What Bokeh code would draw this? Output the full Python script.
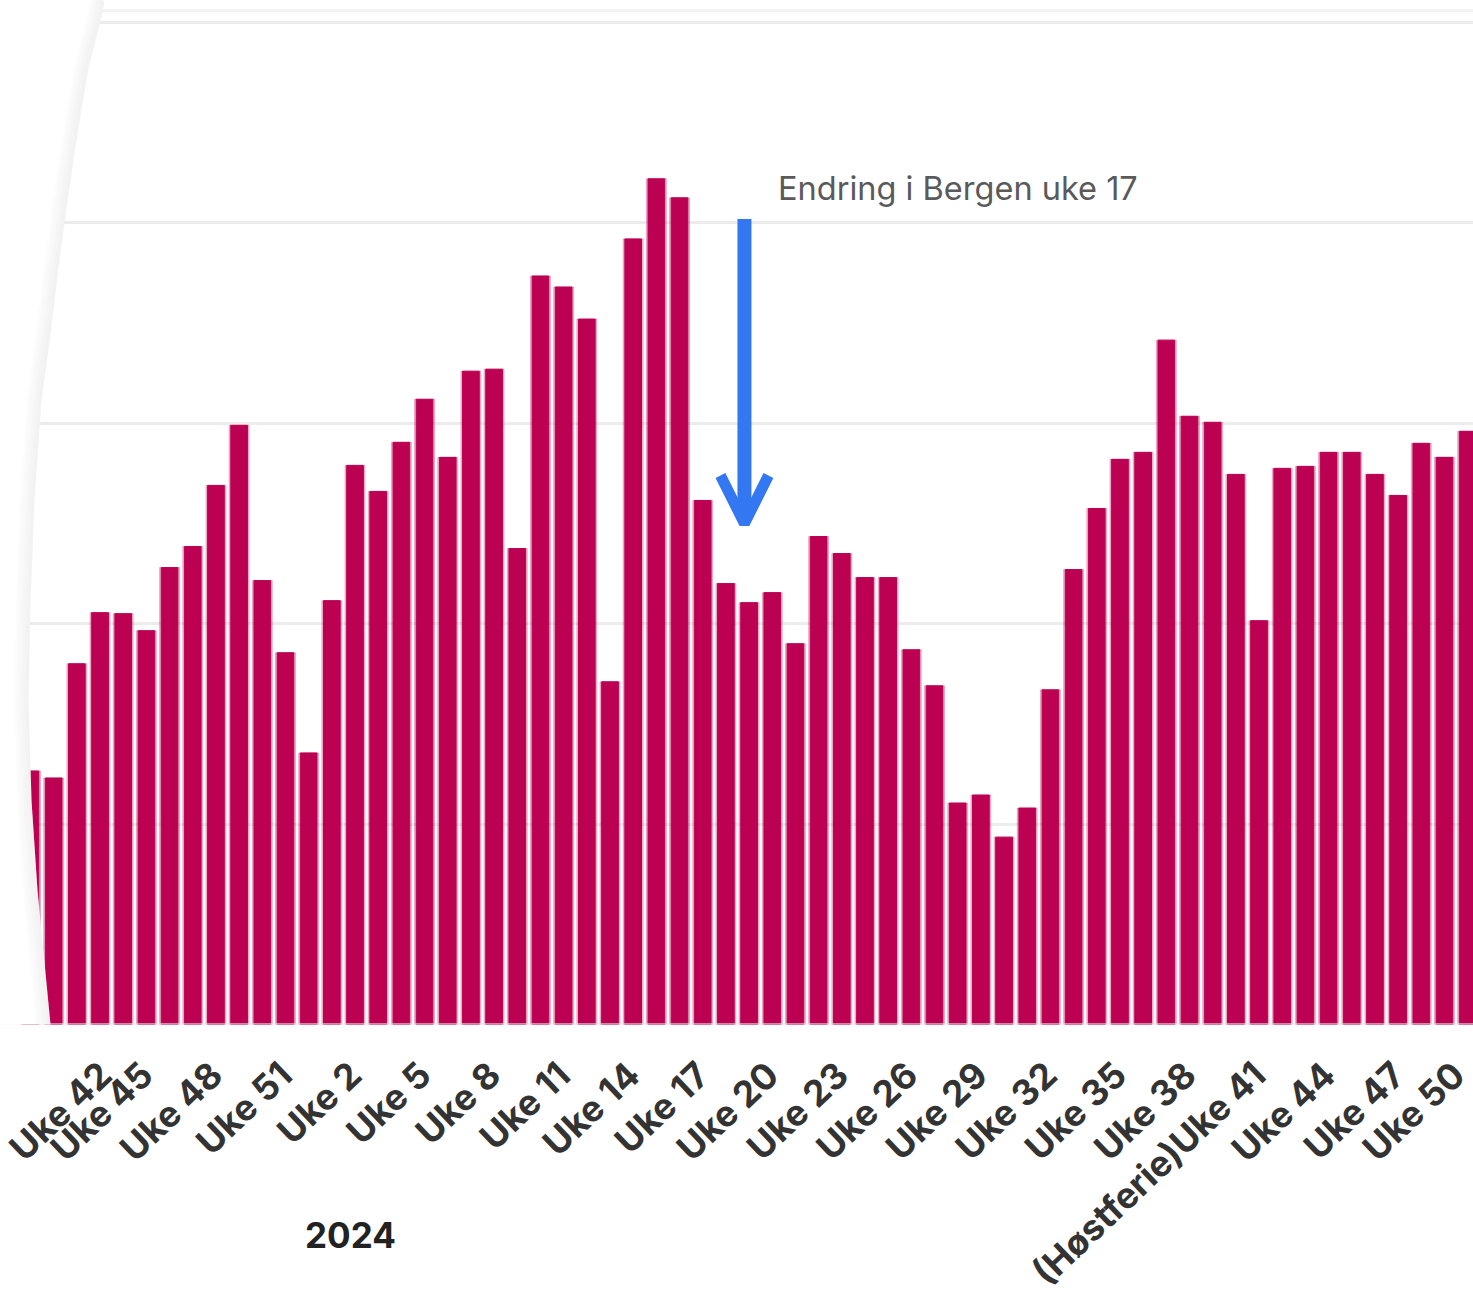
from bokeh.plotting import figure
from bokeh.models import (Range1d, FixedTicker, Label, Arrow, OpenHead, Span,
                          PolyAnnotation, ColumnDataSource, Title)
from bokeh.embed import file_html
from bokeh.resources import INLINE

# ---------------- data ----------------
weeks_2023 = list(range(40, 53))          # Uke 40 .. Uke 52 (2023)
weeks_2024 = list(range(1, 51))           # Uke 1 .. Uke 50 (2024)
years = ["2023"] * len(weeks_2023) + ["2024"] * len(weeks_2024)
week_labels = ["Uke %d" % w for w in weeks_2023] + ["Uke %d" % w for w in weeks_2024]
week_labels[len(weeks_2023) + 40] = "(Høstferie)Uke 41"

values = [
    25.3, 24.6, 36.0, 41.1, 41.0, 39.3, 45.6, 47.7, 53.8, 59.8, 44.3, 37.1, 27.1,   # 2023 uke 40-52
    42.3, 55.8, 53.2, 58.1, 62.4, 56.6, 65.2, 65.4, 47.5, 74.7,                     # 2024 uke 1-10
    73.6, 70.4, 34.2, 78.4, 84.4, 82.5, 52.3, 44.0, 42.1, 43.1,                     # uke 11-20
    38.0, 48.7, 47.0, 44.6, 44.6, 37.4, 33.8, 22.1, 22.9, 18.7,                     # uke 21-30
    21.6, 33.4, 45.4, 51.5, 56.4, 57.1, 68.3, 60.7, 60.1, 54.9,                     # uke 31-40
    40.3, 55.5, 55.7, 57.1, 57.1, 54.9, 52.8, 58.0, 56.6, 59.2,                     # uke 41-50
]
grid_values = [0, 20, 40, 60, 80, 100]
annotation_text = "Endring i Bergen uke 17"
arrow_from, arrow_to = 80.4, 50.0

xs = list(range(1, len(values) + 1))
label_ticks = xs[2::3]

# ---------------- layout constants ----------------
W, H = 1473, 1316
BASE = 1024                 # pixel row of the bar baseline
BOTTOM = H - BASE
PX_PER_UNIT = 10.02
BAR_STEP = 23.18
X0 = 1 - 30 / BAR_STEP
X1 = X0 + W / BAR_STEP
Y1 = BASE / PX_PER_UNIT

BAR_COLOR = "#BC0052"
FONT = "Inter"

p = figure(width=W, height=H, output_backend="svg", toolbar_location=None,
           x_range=Range1d(X0, X1), y_range=Range1d(0, Y1),
           min_border_left=0, min_border_right=0, min_border_top=0,
           min_border_bottom=BOTTOM)
p.outline_line_color = None
p.background_fill_color = "white"
p.border_fill_color = "white"

src = ColumnDataSource(dict(x=xs, top=values, label=week_labels, year=years))
p.vbar(x="x", top="top", width=0.86, source=src, color=BAR_COLOR, alpha=0.25)
p.vbar(x="x", top="top", width=0.72, source=src, color=BAR_COLOR)

# grid
p.xgrid.visible = False
p.ygrid.ticker = FixedTicker(ticks=grid_values)
p.ygrid.grid_line_color = "#ececec"
p.ygrid.grid_line_width = 3
p.yaxis.visible = False

p.add_layout(Span(location=0, dimension="width", line_color="#e2e2e2",
                  line_alpha=0.6, line_width=3))
p.add_layout(Span(location=(BASE - 10) / PX_PER_UNIT, dimension="width",
                  line_color="#f3f3f3", line_width=3))

# x axis with week labels
ax = p.xaxis[0]
ax.ticker = FixedTicker(ticks=label_ticks)
ax.major_label_overrides = {t: week_labels[t - 1] for t in label_ticks}
ax.major_label_orientation = 0.76
ax.major_label_text_font = FONT
ax.major_label_text_font_style = "bold"
ax.major_label_text_font_size = "36px"
ax.major_label_text_color = "#333333"
ax.major_label_standoff = 44
ax.major_tick_out = 0
ax.major_tick_in = 0
ax.axis_line_color = None
ax.major_tick_line_color = None
ax.minor_tick_line_color = None

# year group label (placed in the panel below the axis)
first_2024 = years.index("2024") + 1
year_pos = first_2024 + 1
year_center_px = (year_pos - X0) * BAR_STEP
p.add_layout(Title(text="2024", align="left", vertical_align="top",
                   offset=year_center_px - 50, standoff=-182,
                   text_font=FONT, text_font_style="bold", text_font_size="35px",
                   text_color="#222222"), "below")

# annotation arrow + text
ARROW_X = 31.8
p.add_layout(Arrow(x_start=ARROW_X, y_start=arrow_from, x_end=ARROW_X, y_end=arrow_to,
                   line_color="#3378F2", line_width=14,
                   end=OpenHead(size=48, line_color="#3378F2", line_width=11)))
p.add_layout(Label(x=ARROW_X + 1.45, y=83.4, text=annotation_text,
                   text_font=FONT, text_font_size="32.5px", text_color="#5a5a5a",
                   text_align="left", text_baseline="alphabetic"))

# curved page edge (decoration) on the left
def sx_to_x(sx):
    return X0 + sx / BAR_STEP

def sy_to_y(sy):
    return (BASE - sy) / PX_PER_UNIT

CURVE_SX = [104, 102, 88, 77, 67, 58, 50, 41, 34, 30, 28, 31, 37, 50, 67, 100, 104]
CURVE_SY = [0, 13, 67, 133, 200, 267, 333, 400, 500, 600, 700, 800, 890, 1024, 1158, 1298, 1316]

far_x = [sx_to_x(-80), sx_to_x(-80)]
far_y = [sy_to_y(1400), sy_to_y(-80)]
p.add_layout(PolyAnnotation(xs=[sx_to_x(s) for s in CURVE_SX] + far_x,
                            ys=[sy_to_y(s) for s in CURVE_SY] + far_y,
                            fill_color="white", fill_alpha=1.0, line_color=None))
for k in range(1, 16, 2):
    p.add_layout(PolyAnnotation(xs=[sx_to_x(s - k) for s in CURVE_SX] + far_x,
                                ys=[sy_to_y(s) for s in CURVE_SY] + far_y,
                                fill_color=None, line_color="#d0d0d0",
                                line_alpha=0.28 * (1 - k / 17), line_width=2.2))

open("out.html", "w").write(file_html(p, INLINE))
